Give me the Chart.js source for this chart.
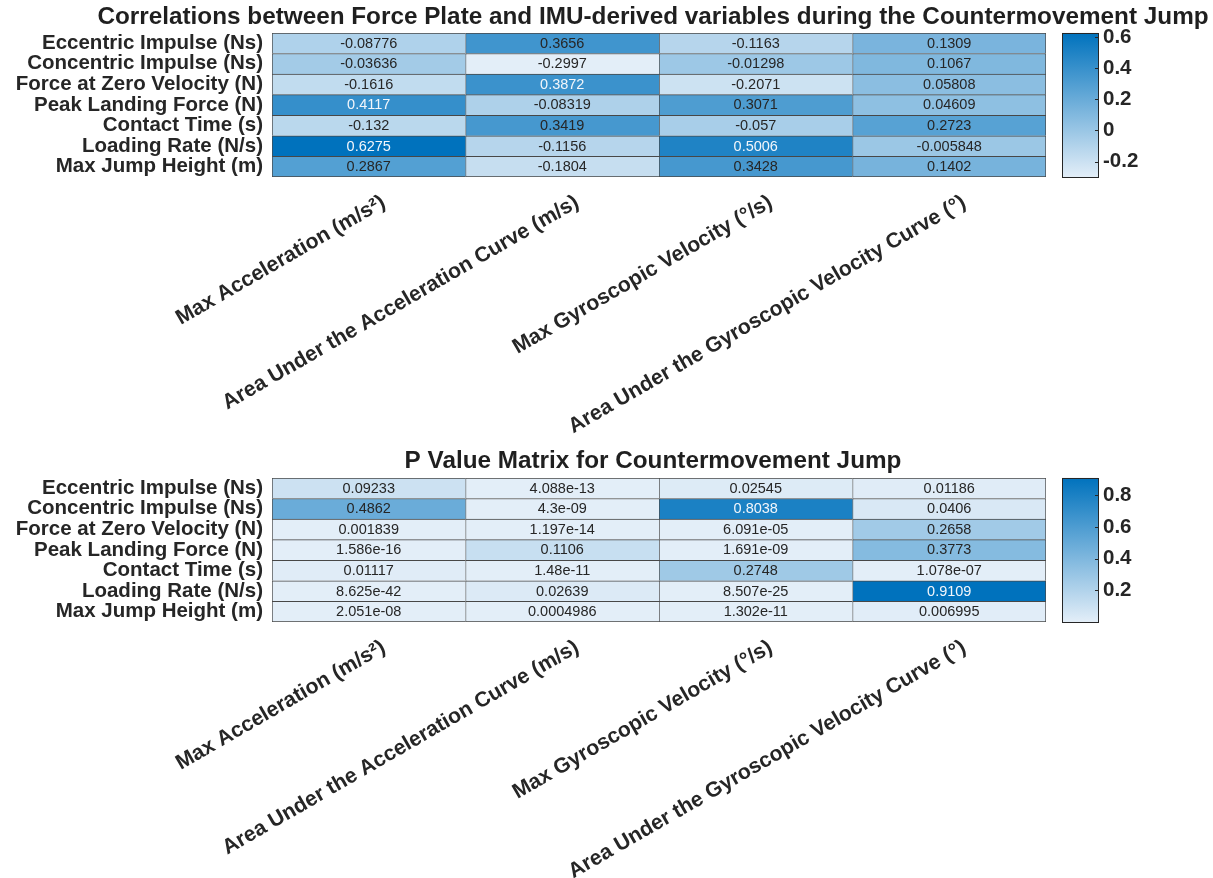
<!DOCTYPE html>
<html>
<head>
<meta charset="utf-8">
<title>Countermovement Jump correlations</title>
<script src="https://cdn.jsdelivr.net/npm/chart.js@4.4.1/dist/chart.umd.min.js"></script>
<style>
  html, body { margin: 0; padding: 0; background: #ffffff; }
  .panel { position: relative; width: 1213px; height: 439px; }
  canvas { display: block; }
</style>
</head>
<body>
<div class="panel"><canvas id="corrChart" width="1213" height="439"></canvas></div>
<div class="panel"><canvas id="pChart" width="1213" height="439"></canvas></div>
<script>
// Force plate variables (rows)
const rowLabels = [
  'Eccentric Impulse (Ns)',
  'Concentric Impulse (Ns)',
  'Force at Zero Velocity (N)',
  'Peak Landing Force (N)',
  'Contact Time (s)',
  'Loading Rate (N/s)',
  'Max Jump Height (m)'
];

// IMU-derived variables (columns)
const colLabels = [
  'Max Acceleration (m/s²)',
  'Area Under the Acceleration Curve (m/s)',
  'Max Gyroscopic Velocity (°/s)',
  'Area Under the Gyroscopic Velocity Curve (°)'
];

// Correlation coefficients, one array per IMU variable, rows in rowLabels order
const rMaxAcc   = [-0.08776, -0.03636, -0.1616, 0.4117, -0.132, 0.6275, 0.2867];
const rAreaAcc  = [0.3656, -0.2997, 0.3872, -0.08319, 0.3419, -0.1156, -0.1804];
const rMaxGyro  = [-0.1163, -0.01298, -0.2071, 0.3071, -0.057, 0.5006, 0.3428];
const rAreaGyro = [0.1309, 0.1067, 0.05808, 0.04609, 0.2723, -0.005848, 0.1402];

// P values, same layout
const pMaxAcc   = [0.09233, 0.4862, 0.001839, 1.586e-16, 0.01117, 8.625e-42, 2.051e-08];
const pAreaAcc  = [4.088e-13, 4.3e-09, 1.197e-14, 0.1106, 1.48e-11, 0.02639, 0.0004986];
const pMaxGyro  = [0.02545, 0.8038, 6.091e-05, 1.691e-09, 0.2748, 8.507e-25, 1.302e-11];
const pAreaGyro = [0.01186, 0.0406, 0.2658, 0.3773, 1.078e-07, 0.9109, 0.006995];

// Colour bar tick values
const corrBarTicks = [-0.2, 0, 0.2, 0.4, 0.6];
const pBarTicks = [0.2, 0.4, 0.6, 0.8];

// Styling
const FONT = "'Liberation Sans', Arial, Helvetica, sans-serif";
const TEXT = '#262626';
const GRID_LINE = '#474747';
const LIGHT = [227, 238, 248];
const DARK = [0, 114, 189];

function shade(t) {
  const c = LIGHT.map((l, i) => Math.round(l + (DARK[i] - l) * t));
  return `rgb(${c[0]}, ${c[1]}, ${c[2]})`;
}

// %.4g style number text
function fmt(v) {
  if (v === 0) return '0';
  const strip = s => s.indexOf('.') >= 0 ? s.replace(/0+$/, '').replace(/\.$/, '') : s;
  const parts = v.toExponential(3).split('e');
  const ex = parseInt(parts[1], 10);
  if (ex < -4 || ex >= 4) {
    const sign = ex < 0 ? '-' : '+';
    const mag = String(Math.abs(ex)).padStart(2, '0');
    return strip(parts[0]) + 'e' + sign + mag;
  }
  return strip(v.toFixed(3 - ex));
}

// Writes each cell's value in its centre
const cellText = {
  id: 'cellText',
  afterDatasetsDraw(chart) {
    const ctx = chart.ctx;
    ctx.save();
    ctx.font = `14.5px ${FONT}`;
    ctx.textAlign = 'center';
    ctx.textBaseline = 'middle';
    chart.data.datasets.forEach((ds, i) => {
      chart.getDatasetMeta(i).data.forEach((bar, r) => {
        ctx.fillStyle = ds.fractions[r] > 0.73 ? '#f2f6fb' : TEXT;
        ctx.fillText(fmt(ds.values[r]), (bar.x + bar.base) / 2, bar.y + 0.5);
      });
    });
    ctx.restore();
  }
};

// Draws the colour bar along the 'cb' scale
const colourBar = {
  id: 'colourBar',
  afterDraw(chart) {
    const s = chart.scales.cb;
    const ctx = chart.ctx;
    const x0 = chart.chartArea.right + 16;
    const w = 36;
    const yTop = s.getPixelForValue(s.max);
    const yBot = s.getPixelForValue(s.min);
    const g = ctx.createLinearGradient(0, yTop, 0, yBot);
    g.addColorStop(0, shade(1));
    g.addColorStop(1, shade(0));
    ctx.save();
    ctx.fillStyle = g;
    ctx.fillRect(x0, yTop, w, yBot - yTop);
    ctx.strokeStyle = TEXT;
    ctx.lineWidth = 1;
    ctx.strokeRect(x0 + 0.5, Math.round(yTop) + 0.5, w, Math.round(yBot - yTop));
    ctx.beginPath();
    s.ticks.forEach(t => {
      const y = Math.round(s.getPixelForValue(t.value)) + 0.5;
      ctx.moveTo(x0 + w - 3, y);
      ctx.lineTo(x0 + w + 0.5, y);
    });
    ctx.stroke();
    ctx.restore();
  }
};

function heatmap(canvasId, title, columns, barTicks, titlePad, axisHeight) {
  const all = columns.flat();
  const lo = Math.min(...all);
  const hi = Math.max(...all);
  const datasets = columns.map((vals, c) => {
    const fractions = vals.map(v => (v - lo) / (hi - lo));
    return {
      label: colLabels[c],
      data: vals.map(() => [c, c + 1]),
      values: vals,
      fractions: fractions,
      backgroundColor: fractions.map(shade),
      borderColor: GRID_LINE,
      borderWidth: ctx => ({
        top: 1,
        left: 1,
        right: c === columns.length - 1 ? 1 : 0,
        bottom: ctx.dataIndex === vals.length - 1 ? 1 : 0
      }),
      borderSkipped: false,
      grouped: false,
      barPercentage: 1,
      categoryPercentage: 1
    };
  });

  const rowFont = { family: FONT, size: 20.5, weight: 'bold' };
  const colFont = { family: FONT, size: 21.2, weight: 'bold' };

  return new Chart(document.getElementById(canvasId), {
    type: 'bar',
    data: { labels: rowLabels, datasets: datasets },
    options: {
      responsive: false,
      animation: false,
      devicePixelRatio: 1,
      indexAxis: 'y',
      // the right side reaches past the canvas so the title centres over the grid
      layout: { padding: { left: 5, right: -88, top: 0, bottom: 0 } },
      plugins: {
        legend: { display: false },
        tooltip: { enabled: false },
        title: {
          display: true,
          text: title,
          color: '#1f1f1f',
          font: { family: FONT, size: 24.3, weight: 'bold', lineHeight: 1.2 },
          padding: titlePad
        }
      },
      scales: {
        x: {
          type: 'linear',
          min: 0,
          max: colLabels.length,
          grid: { display: false, drawTicks: false },
          border: { display: false },
          afterBuildTicks: s => { s.ticks = colLabels.map((_, i) => ({ value: i + 0.5 })); },
          afterFit: s => { s.height = axisHeight; },
          ticks: {
            autoSkip: false,
            minRotation: 30,
            maxRotation: 30,
            padding: 13,
            labelOffset: 15,
            color: TEXT,
            font: colFont,
            callback: v => colLabels[Math.floor(v)]
          }
        },
        y: {
          type: 'category',
          labels: rowLabels,
          grid: { display: false, drawTicks: false },
          border: { display: false },
          afterFit: s => { s.width = 267; },
          ticks: { autoSkip: false, padding: 9, color: TEXT, font: rowFont }
        },
        cb: {
          type: 'linear',
          axis: 'y',
          position: 'right',
          offset: false,
          min: lo,
          max: hi,
          grid: { display: false, drawTicks: true, tickLength: 54 },
          border: { display: false },
          afterBuildTicks: s => { s.ticks = barTicks.map(v => ({ value: v })); },
          afterFit: s => { s.width = 255; },
          ticks: {
            padding: 3,
            color: TEXT,
            font: rowFont,
            callback: v => String(+v.toFixed(1))
          }
        }
      }
    },
    plugins: [cellText, colourBar]
  });
}

heatmap('corrChart',
  'Correlations between Force Plate and IMU-derived variables during the Countermovement Jump',
  [rMaxAcc, rAreaAcc, rMaxGyro, rAreaGyro], corrBarTicks, { top: 3, bottom: 0.8 }, 262);

heatmap('pChart',
  'P Value Matrix for Countermovement Jump',
  [pMaxAcc, pAreaAcc, pMaxGyro, pAreaGyro], pBarTicks, { top: 7.5, bottom: 2.3 }, 256);
</script>
</body>
</html>
